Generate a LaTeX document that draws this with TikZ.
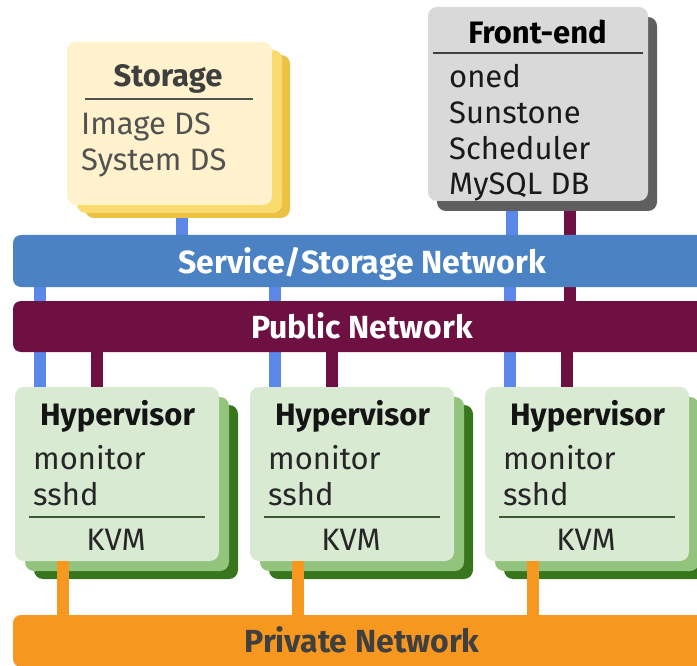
\documentclass[tikz,border=0pt]{standalone}
\usepackage{fontspec}
\setmainfont{Fira Sans}
\usetikzlibrary{shadows}
\pgfdeclarelayer{bg}
\pgfdeclarelayer{paper}
\pgfsetlayers{paper,bg,main}
\definecolor{stfront}{HTML}{FFF2CC}
\definecolor{stmid}{HTML}{FADB6E}
\definecolor{stdark}{HTML}{ECC244}
\definecolor{fefront}{HTML}{D9D9D9}
\definecolor{fedark}{HTML}{5F5F5F}
\definecolor{hyfront}{HTML}{D9EAD3}
\definecolor{hymid}{HTML}{93C47D}
\definecolor{hydark}{HTML}{38761D}
\definecolor{servbar}{HTML}{4A82C4}
\definecolor{servline}{HTML}{5B87E8}
\definecolor{pubbar}{HTML}{6E1142}
\definecolor{privbar}{HTML}{F6981F}
\definecolor{txtdark}{HTML}{3F3F3F}
\definecolor{txtgray}{HTML}{525252}
\definecolor{hyline}{HTML}{3C5A32}
\tikzset{
  box/.style={rounded corners=9pt, draw=none, inner sep=0pt},
  bar/.style={rounded corners=8pt, draw=none, inner sep=0pt, minimum width=698pt},
  bartext/.style={font=\fontsize{32}{36}\selectfont\bfseries, anchor=base, inner sep=0pt},
  ttl/.style={font=\fontsize{31}{36}\selectfont\bfseries, anchor=base, inner sep=0pt},
  itm/.style={font=\fontsize{31}{36}\selectfont, anchor=base west, inner sep=0pt},
  rule/.style={line width=2.5pt},
  conn/.style={line width=11.5pt},
  blueconn/.style={conn, draw=servline},
  pubconn/.style={conn, draw=pubbar},
  privconn/.style={conn, draw=privbar},
}
\begin{document}
\begin{tikzpicture}[x=1pt,y=-1pt]
\clip (0,0) rectangle (697,666);
\begin{pgfonlayer}{paper}
\fill[white] (0,0) rectangle (697,666);
\end{pgfonlayer}

% Storage
\node[box, fill=stfront, minimum width=205pt, minimum height=163pt,
  copy shadow={fill=stdark, draw=none, shadow xshift=18pt, shadow yshift=-13pt},
  copy shadow={fill=stmid, draw=none, shadow xshift=10pt, shadow yshift=-8pt}]
  (storage) at (169.5,123.5) {};
\node[ttl, text=txtdark] (storaget) at (168,87) {Storage};
\draw[rule, draw=txtgray] (85,99) -- (253,99);
\node[itm, text=txtgray] (st1) at (81,135) {Image DS};
\node[itm, text=txtgray] (st2) at (81,171) {System DS};

% Front-end
\node[box, fill=fefront, minimum width=220pt, minimum height=194pt,
  copy shadow={fill=fedark, draw=none, shadow xshift=9pt, shadow yshift=-10pt}]
  (fe) at (538,104) {};
\node[ttl, text=black] (fet) at (537.5,44) {Front-end};
\draw[rule, draw=txtdark] (433,53) -- (643,53);
\node[itm, text=black!90] (fe1) at (449,88) {oned};
\node[itm, text=black!90] (fe2) at (449,124) {Sunstone};
\node[itm, text=black!90] (fe3) at (449,160) {Scheduler};
\node[itm, text=black!90] (fe4) at (449,195) {MySQL DB};

% Networks
\node[bar, fill=servbar, minimum height=52pt] (service) at (362,261) {};
\node[bartext, text=white] (servicet) at (362,273.5) {Service/Storage Network};
\node[bar, fill=pubbar, minimum height=51pt] (public) at (362,326.5) {};
\node[bartext, text=white] (publict) at (362,338) {Public Network};
\node[bar, fill=privbar, minimum height=52pt] (private) at (362,641) {};
\node[bartext, text=txtdark] (privatet) at (362,652) {Private Network};

% Hypervisors
\foreach \i/\dx in {1/0,2/235,3/470}{
  \node[box, fill=hyfront, minimum width=204pt, minimum height=174pt,
    copy shadow={fill=hydark, draw=none, shadow xshift=19pt, shadow yshift=-18pt},
    copy shadow={fill=hymid, draw=none, shadow xshift=10pt, shadow yshift=-10pt}]
    (h\i) at (117+\dx,474) {};
  \node[ttl, text=black!92] (h\i t) at (117.5+\dx,425) {Hypervisor};
  \node[itm, text=black!85] (h\i a) at (33+\dx,469) {monitor};
  \node[itm, text=black!85] (h\i b) at (33+\dx,505) {sshd};
  \draw[rule, draw=hyline] (29+\dx,517) -- (205+\dx,517);
  \node[ttl, font=\fontsize{31}{36}\selectfont, text=black!85] (h\i k) at (116+\dx,550) {KVM};
  \draw[privconn] ([xshift=-54pt]h\i.south) -- ([xshift=-54pt]h\i.south |- private.north);
  \begin{pgfonlayer}{bg}
    \draw[blueconn] ([xshift=-77pt]h\i.north) -- ([xshift=-77pt]h\i.north |- service.south);
    \draw[pubconn] ([xshift=-20pt]h\i.north) -- ([xshift=-20pt]h\i.north |- public.south);
  \end{pgfonlayer}
}

% Connectors top
\begin{pgfonlayer}{bg}
  \draw[blueconn] ([xshift=12.5pt]storage.south) -- ([xshift=12.5pt]storage.south |- service.north);
  \draw[blueconn] ([xshift=-26pt]fe.south) -- ([xshift=-26pt]fe.south |- service.north);
  \draw[pubconn] ([xshift=32pt]fe.south) -- ([xshift=32pt]fe.south |- public.north);
\end{pgfonlayer}
\end{tikzpicture}
\end{document}
